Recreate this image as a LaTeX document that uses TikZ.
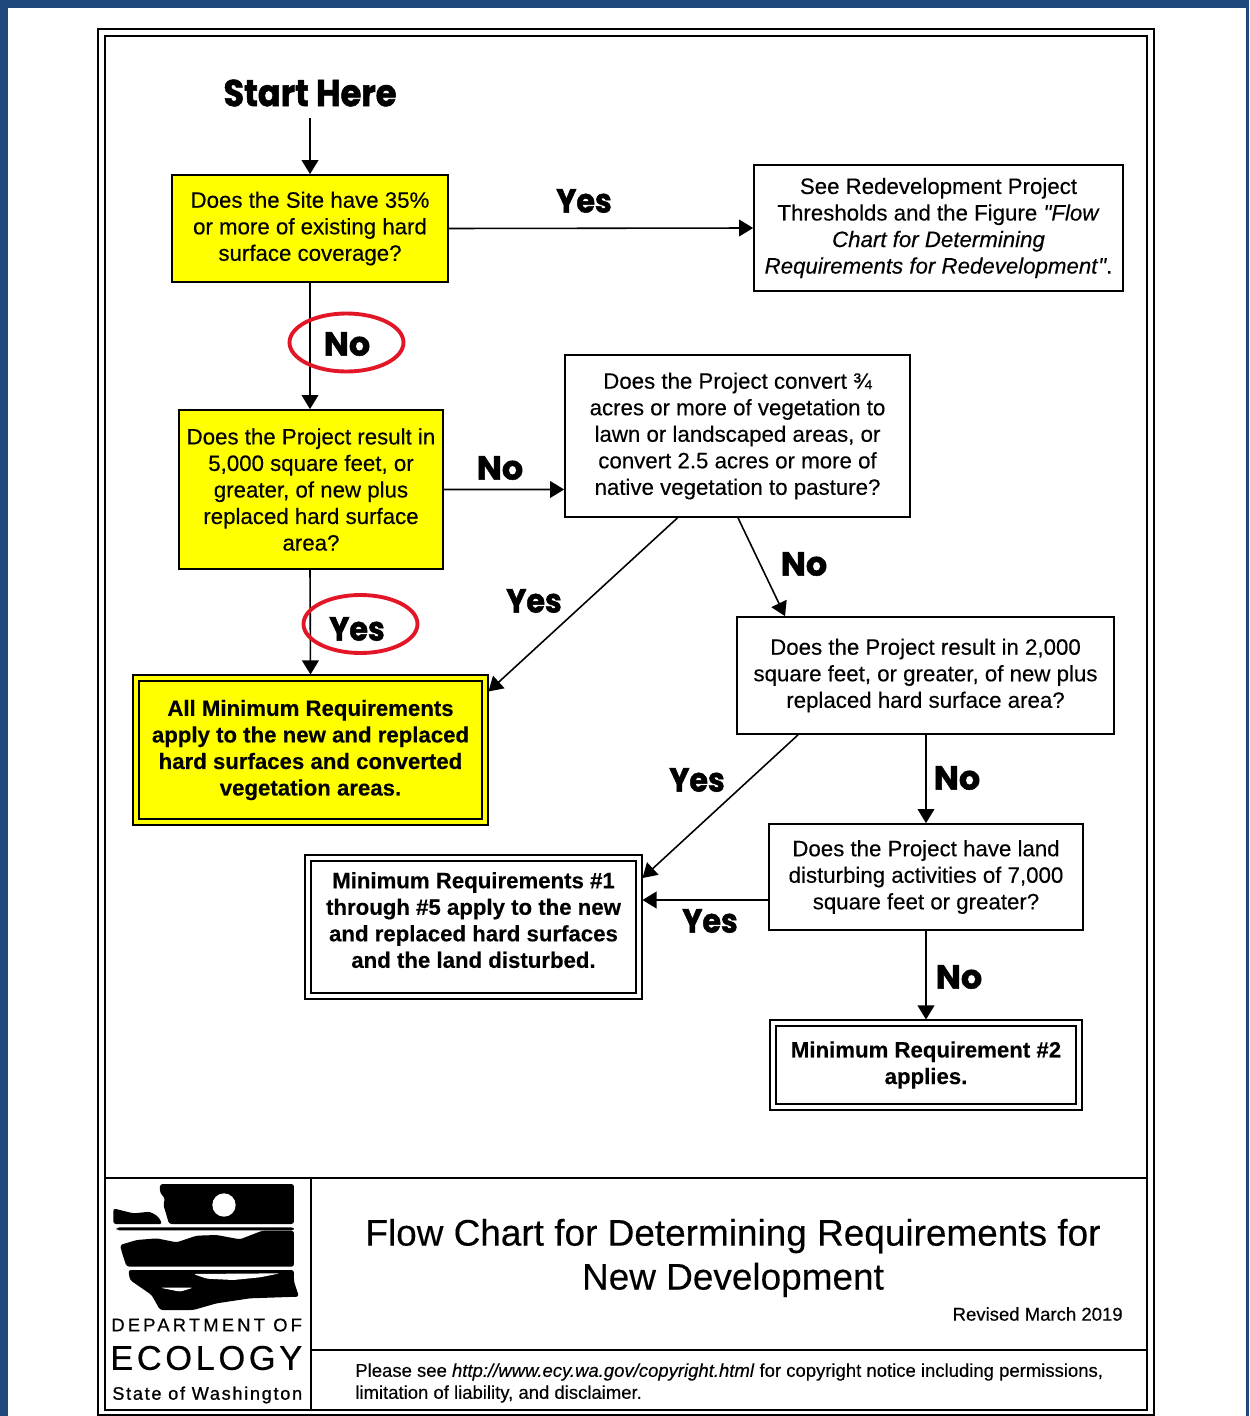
\documentclass[tikz,border=0pt]{standalone}
\usepackage{fontspec}
\setmainfont[FakeBold=0.3]{Liberation Sans}
\newfontfamily\quotefont[FakeBold=0.3]{Liberation Sans}
\newfontfamily\yesfont[FakeBold=1.4,FakeStretch=0.9]{Poppins}
\newfontfamily\nofont[FakeBold=1.4]{Poppins}
\newfontfamily\deptfont[LetterSpace=17,FakeBold=0.3]{Liberation Sans}
\newfontfamily\ecofont[LetterSpace=10.9,FakeBold=0.6]{Liberation Sans}
\newfontfamily\statefont[LetterSpace=9.5,FakeBold=1.0]{Liberation Sans}
\usepackage{tikz}
\usetikzlibrary{arrows.meta,shapes}
\definecolor{pageblue}{RGB}{31,73,125}
\definecolor{boxyellow}{RGB}{255,255,0}
\definecolor{ringred}{RGB}{226,22,38}
\newcommand{\straightq}{{\quotefont\itshape"}}
\tikzset{
  qbox/.style={draw,line width=1pt,inner sep=0pt,align=center,
    font=\fontsize{12.67}{15.1}\selectfont,execute at begin node={\rule{0pt}{11.4pt}}},
  ybox/.style={qbox,fill=boxyellow},
  endbox/.style={qbox,double,double distance=2.4pt,line width=0.9pt,outer sep=2pt,
    font=\fontsize{12.64}{15.1}\selectfont\bfseries,execute at begin node={\rule{0pt}{17pt}}},
  yeslabel/.style={inner sep=0pt,font=\yesfont\fontsize{19}{19}\selectfont\bfseries},
  nolabel/.style={inner sep=0pt,font=\nofont\fontsize{19}{19}\selectfont\bfseries},
  flow/.style={-{Triangle[length=8pt,width=9.5pt]},line width=0.9pt},
  ring/.style={draw=ringred,line width=2.2pt},
  frameline/.style={line width=1.5pt},
}
\begin{document}
\begin{tikzpicture}[x=0.02cm,y=-0.02cm]
  \useasboundingbox (0,0) rectangle (1249,1416);
  \fill[pageblue] (0,0) rectangle (1249,1416);
  \fill[white] (8,8) rectangle (1246,1416);
% Frame
  \draw[frameline] (98,29) rectangle (1154,1415);
  \draw[frameline] (105,36) rectangle (1147,1410);
  \draw[frameline] (105,1178) -- (1147,1178);
  \draw[frameline] (311,1178) -- (311,1410);
  \draw[frameline] (311,1350) -- (1147,1350);
% Questions
  \node[yeslabel,font=\yesfont\fontsize{21.3}{21.3}\selectfont\bfseries] (start) at (310,93) {Start Here};
  \coordinate (startend) at (310,118);
  \node[ybox,minimum width=5.52cm,minimum height=2.14cm] (site) at (310,228.5)
    {Does the Site have 35\%\\or more of existing hard\\surface coverage?};
  \node[qbox,minimum width=7.38cm,minimum height=2.52cm] (redev) at (938.5,228)
    {See Redevelopment Project\\Thresholds and the Figure \straightq\textit{Flow}\\\textit{Chart for Determining}\\\textit{Requirements for Redevelopment}\straightq.};
  \node[ybox,minimum width=5.28cm,minimum height=3.18cm] (project) at (311,489.5)
    {Does the Project result in\\5,000 square feet, or\\greater, of new plus\\replaced hard surface\\area?};
  \node[qbox,minimum width=6.9cm,minimum height=3.24cm] (veg) at (737.5,436)
    {Does the Project convert ¾\\acres or more of vegetation to\\lawn or landscaped areas, or\\convert 2.5 acres or more of\\native vegetation to pasture?};
  \node[qbox,minimum width=7.54cm,minimum height=2.34cm] (small) at (925.5,675.5)
    {Does the Project result in 2,000\\square feet, or greater, of new plus\\replaced hard surface area?};
  \node[qbox,minimum width=6.28cm,minimum height=2.12cm] (land) at (926,877)
    {Does the Project have land\\disturbing activities of 7,000\\square feet or greater?};
% Results
  \node[endbox,double=boxyellow,fill=boxyellow,minimum width=6.98cm,minimum height=2.88cm] (allmr) at (310.5,750)
    {All Minimum Requirements\\apply to the new and replaced\\hard surfaces and converted\\vegetation areas.};
  \node[endbox,minimum width=6.62cm,minimum height=2.76cm] (mrfive) at (473.5,927)
    {Minimum Requirements \#1\\through \#5 apply to the new\\and replaced hard surfaces\\and the land disturbed.\rule[-8pt]{0pt}{0pt}};
  \node[endbox,minimum width=6.12cm,minimum height=1.68cm] (mrtwo) at (926,1065)
    {Minimum Requirement \#2\\applies.};
% Connectors
  \draw[flow] (startend) -- (site.north);
  \draw[flow] (site.east) -- (redev.west);
  \draw[flow] (site.south) -- ([xshift=-0.02cm]project.north);
  \draw[flow] ([xshift=-0.02cm]project.south) -- (allmr.north);
  \draw[flow] (project.east) -- ([yshift=-1.07cm]veg.west);
  \draw[flow] ([xshift=-1.2cm]veg.south) -- ([yshift=-0.34cm]allmr.north east);
  \draw[flow] ([xshift=0.01cm]veg.south) -- ([xshift=-2.81cm]small.north);
  \draw[flow] ([xshift=-2.55cm]small.south) -- ([yshift=0.98cm]mrfive.east);
  \draw[flow] (land.north |- small.south) -- (land.north);
  \draw[flow] ([yshift=-0.46cm]land.west) -- ([yshift=0.54cm]mrfive.east);
  \draw[flow] (land.south) -- (mrtwo.north);
% Answers
  \draw[ring] (346.5,342.5) ellipse (57 and 29);
  \draw[ring] (360.5,624) ellipse (57 and 29);
  \node[yeslabel] (yesa) at (584,201) {Yes};
  \node[nolabel] (noa) at (347,344) {No};
  \node[nolabel] (nob) at (500,468) {No};
  \node[yeslabel] (yesb) at (534,601) {Yes};
  \node[nolabel] (noc) at (804,564) {No};
  \node[yeslabel] (yesc) at (357,629) {Yes};
  \node[yeslabel] (yesd) at (697,780) {Yes};
  \node[nolabel] (nod) at (957,778) {No};
  \node[yeslabel] (yese) at (710,921) {Yes};
  \node[nolabel] (noe) at (959,977) {No};
% Logo
  \begin{scope}[shift={(100,1170)},scale=0.3333,rounded corners=1.5pt]
    \fill (180,42) -- (582,42) -- (582,162) -- (207,162) -- (198,130) -- (190,105) -- (195,85) -- (180,68) -- cycle;
    \fill[white] (372,105) circle (35);
    \fill (40,115) -- (100,130) -- (150,125) -- (175,140) -- (187,162) -- (40,162) -- cycle;
    \fill (50,172) rectangle (582,181);
    \fill (60,225) -- (110,210) -- (170,205) -- (230,217) -- (290,197) -- (350,195) -- (420,208) -- (487,182)
      -- (582,182) -- (582,290) -- (80,290) -- (68,255) -- cycle;
    \fill (85,300) -- (582,300) -- (582,335) -- (597,380) -- (450,385) -- (350,400) -- (280,420) -- (180,420)
      -- (155,375) -- (90,330) -- cycle;
    \fill[white] (280,312) -- (540,310) -- (480,322) -- (400,330) -- (320,326) -- cycle;
    \fill[white] (180,353) -- (280,353) -- (240,365) -- cycle;
  \end{scope}
  \node[inner sep=0pt,anchor=west,font=\deptfont\fontsize{10.5}{10.5}\selectfont] (dept) at (111,1325) {DEPARTMENT OF};
  \node[inner sep=0pt,anchor=west,font=\ecofont\fontsize{19.5}{19.5}\selectfont] (eco) at (110,1358) {ECOLOGY};
  \node[inner sep=0pt,anchor=west,font=\statefont\fontsize{10.3}{10.3}\selectfont] (state) at (112,1395) {State of Washington};
% Title block
  \node[inner sep=0pt,align=center,font=\fontsize{21.03}{25}\selectfont] (title) at (733,1258)
    {Flow Chart for Determining Requirements for\\New Development};
  \node[inner sep=0pt,anchor=east,font=\fontsize{10.55}{12}\selectfont] (revised) at (1123,1314) {Revised March 2019};
  \node[inner sep=0pt,anchor=west,align=left,font=\fontsize{10.53}{12.5}\selectfont] (notice) at (355,1383)
    {Please see \textit{http://www.ecy.wa.gov/copyright.html} for copyright notice including permissions,\\limitation of liability, and disclaimer.};
\end{tikzpicture}
\end{document}
